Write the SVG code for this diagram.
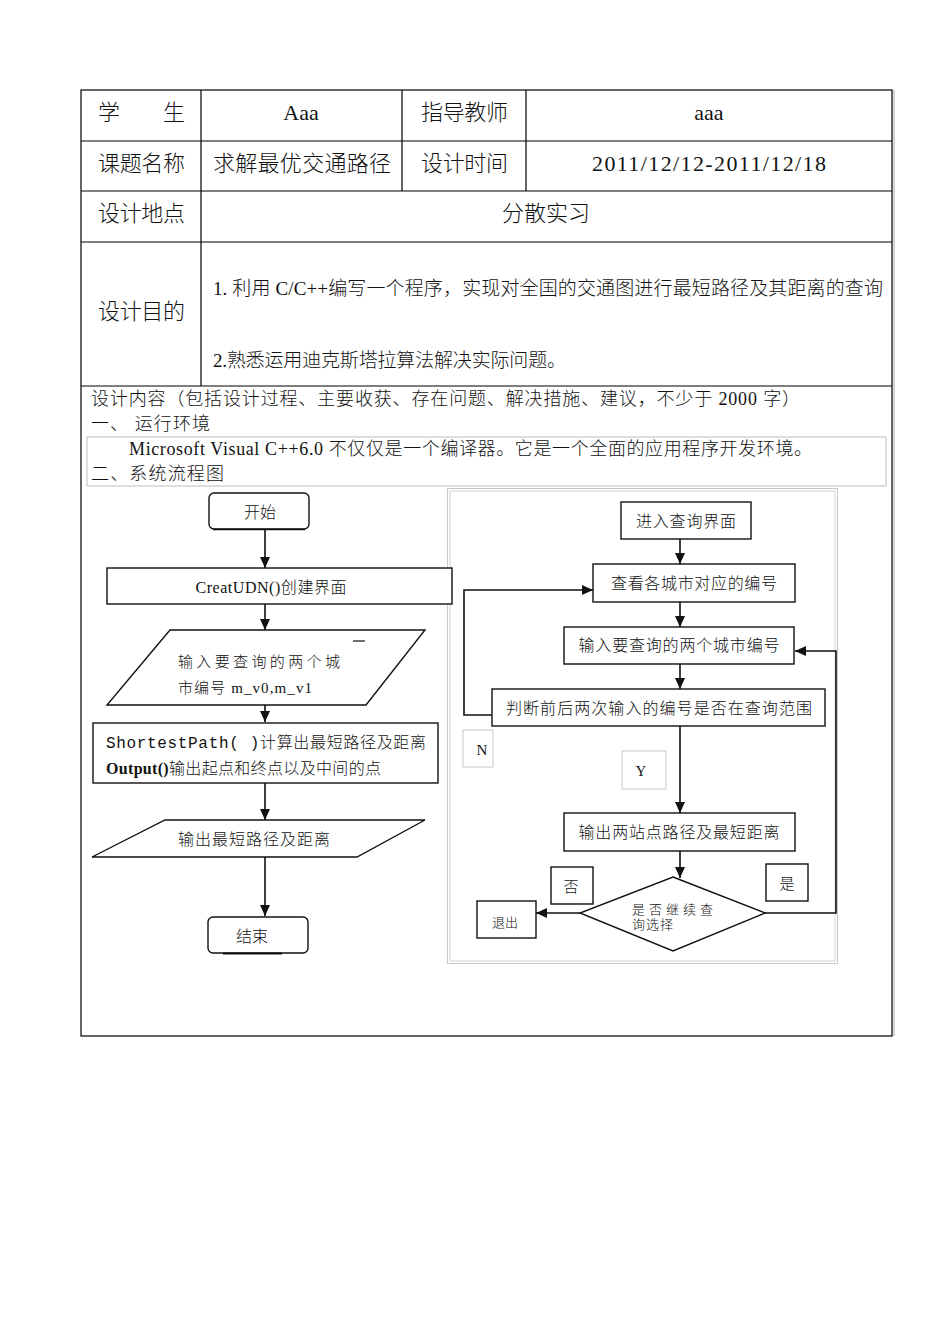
<svg xmlns="http://www.w3.org/2000/svg" width="950" height="1344" viewBox="0 0 950 1344">
<style>
text{font-family:"Liberation Serif","Noto Sans CJK SC",serif;fill:#111;font-weight:300}
.t22{font-size:22px}
.t19{font-size:19px}
.t18{font-size:18px}
.f16{font-size:16px}
.f15{font-size:15px}
.f13{font-size:13px}
.mid{text-anchor:middle}
.tb{fill:none;stroke:#000;stroke-width:1.2}
.bx{fill:#fff;stroke:#111;stroke-width:1.4}
.gb{fill:none;stroke:#bdbdbd;stroke-width:1}
.ln{fill:none;stroke:#111;stroke-width:1.6}
</style>
<defs>
<marker id="ah" markerUnits="userSpaceOnUse" markerWidth="12" markerHeight="12" refX="11" refY="6" orient="auto">
<path d="M0,1 L11,6 L0,11 Z" fill="#111"/>
</marker>
</defs>
<rect width="950" height="1344" fill="#fff"/>

<g id="table">
<rect x="81" y="90" width="811" height="946" class="tb"/>
<line x1="894" y1="90" x2="894" y2="1036" stroke="#aaa" stroke-width="1"/>
<line x1="81" y1="141" x2="892" y2="141" class="tb"/>
<line x1="81" y1="191" x2="892" y2="191" class="tb"/>
<line x1="81" y1="242" x2="892" y2="242" class="tb"/>
<line x1="81" y1="386" x2="892" y2="386" class="tb"/>
<line x1="201" y1="90" x2="201" y2="386" class="tb"/>
<line x1="402" y1="90" x2="402" y2="191" class="tb"/>
<line x1="526" y1="90" x2="526" y2="191" class="tb"/>
<text x="98" y="120" class="t22">学</text>
<text x="163" y="120" class="t22">生</text>
<text x="301" y="120" class="t22 mid">Aaa</text>
<text x="421" y="120" class="t22" textLength="87">指导教师</text>
<text x="709" y="120" class="t22 mid">aaa</text>
<text x="98" y="171" class="t22" textLength="87">课题名称</text>
<text x="213" y="171" class="t22" textLength="178">求解最优交通路径</text>
<text x="421" y="171" class="t22" textLength="87">设计时间</text>
<text x="592" y="171" class="t22" textLength="234">2011/12/12-2011/12/18</text>
<text x="98" y="221" class="t22" textLength="87">设计地点</text>
<text x="546" y="221" class="t22 mid">分散实习</text>
<text x="98" y="319" class="t22" textLength="87">设计目的</text>
<text x="213" y="295" class="t19" textLength="670">1. 利用 C/C++编写一个程序，实现对全国的交通图进行最短路径及其距离的查询</text>
<text x="213" y="367" class="t19" textLength="353">2.熟悉运用迪克斯塔拉算法解决实际问题。</text>
<text x="91" y="405" class="t18" textLength="709">设计内容（包括设计过程、主要收获、存在问题、解决措施、建议，不少于 2000 字）</text>
<text x="91" y="430" class="t18" textLength="119">一、 运行环境</text>
<rect x="87" y="437" width="799" height="49" class="gb"/>
<text x="129" y="455" class="t18" textLength="683">Microsoft Visual C++6.0 不仅仅是一个编译器。它是一个全面的应用程序开发环境。</text>
<text x="91" y="480" class="t18" textLength="133">二、系统流程图</text>
</g>

<g id="right-container">
<rect x="447.5" y="488.5" width="390" height="475" fill="none" stroke="#c8c8c8" stroke-width="1"/>
<rect x="450" y="491" width="385" height="470" fill="none" stroke="#d4d4d4" stroke-width="1"/>
</g>

<g id="connectors">
<line x1="265" y1="530" x2="265" y2="568" class="ln" marker-end="url(#ah)"/>
<line x1="265" y1="604" x2="265" y2="630" class="ln" marker-end="url(#ah)"/>
<line x1="265" y1="705" x2="265" y2="722" class="ln" marker-end="url(#ah)"/>
<line x1="265" y1="783" x2="265" y2="820" class="ln" marker-end="url(#ah)"/>
<line x1="265" y1="857" x2="265" y2="916" class="ln" marker-end="url(#ah)"/>
<line x1="680" y1="539" x2="680" y2="564" class="ln" marker-end="url(#ah)"/>
<line x1="680" y1="602" x2="680" y2="627" class="ln" marker-end="url(#ah)"/>
<line x1="680" y1="664" x2="680" y2="689" class="ln" marker-end="url(#ah)"/>
<line x1="680" y1="726" x2="680" y2="813" class="ln" marker-end="url(#ah)"/>
<line x1="680" y1="851" x2="680" y2="878" class="ln" marker-end="url(#ah)"/>
<polyline points="492,715 464,715 464,590 593,590" class="ln" marker-end="url(#ah)"/>
<polyline points="765,913 836,913 836,651 795,651" class="ln" marker-end="url(#ah)"/>
<line x1="580" y1="913" x2="536" y2="913" class="ln" marker-end="url(#ah)"/>
</g>

<g id="n-start">
<rect x="209" y="493" width="100" height="36" rx="5" class="bx"/>
<line x1="213" y1="529.5" x2="305" y2="529.5" stroke="#111" stroke-width="1.5"/>
<text x="260" y="518" class="f16 mid">开始</text>
</g>
<g id="n-creat">
<rect x="107" y="568" width="345" height="36" class="bx"/>
<text x="271" y="593" class="f16 mid" textLength="151">CreatUDN()创建界面</text>
</g>
<g id="n-input">
<polygon points="170,630 425,630 366,705 107,705" class="bx"/>
<line x1="165" y1="640" x2="352" y2="640" stroke="#fff" stroke-width="1"/>
<line x1="353" y1="641" x2="365" y2="641" stroke="#111" stroke-width="1.2"/>
<text x="178" y="667" class="f15" textLength="162">输入要查询的两个城</text>
<text x="178" y="693" class="f15" textLength="134">市编号 m_v0,m_v1</text>
</g>
<g id="n-shortest">
<rect x="93" y="723" width="345" height="60" class="bx"/>
<text x="106" y="748" class="f16" textLength="320"><tspan font-family="Liberation Mono, monospace">ShortestPath( )</tspan>计算出最短路径及距离</text>
<text x="106" y="774" class="f16" textLength="275"><tspan font-weight="bold">Output()</tspan>输出起点和终点以及中间的点</text>
</g>
<g id="n-output">
<polygon points="165,820 425,820 357,857 92,857" class="bx"/>
<text x="178" y="845" class="f16" textLength="152">输出最短路径及距离</text>
</g>
<g id="n-end">
<rect x="208" y="917" width="100" height="36" rx="5" class="bx"/>
<line x1="223" y1="953.5" x2="282" y2="953.5" stroke="#111" stroke-width="2"/>
<text x="252" y="942" class="f16 mid">结束</text>
</g>

<g id="r-enter">
<rect x="621" y="502" width="130" height="37" class="bx"/>
<text x="686" y="527" class="f16 mid" textLength="100">进入查询界面</text>
</g>
<g id="r-view">
<rect x="593" y="564" width="202" height="38" class="bx"/>
<text x="694" y="589" class="f16 mid" textLength="166">查看各城市对应的编号</text>
</g>
<g id="r-input">
<rect x="564" y="627" width="230" height="37" class="bx"/>
<text x="679" y="651" class="f16 mid" textLength="201">输入要查询的两个城市编号</text>
</g>
<g id="r-judge">
<rect x="492" y="689" width="333" height="37" class="bx"/>
<text x="659" y="714" class="f16 mid" textLength="306">判断前后两次输入的编号是否在查询范围</text>
</g>
<g id="r-n">
<rect x="463" y="730" width="30" height="37" fill="#fff" stroke="#c8c8c8" stroke-width="1"/>
<text x="482" y="755" class="f15 mid">N</text>
</g>
<g id="r-y">
<rect x="622" y="751" width="44" height="38" fill="#fff" stroke="#c8c8c8" stroke-width="1"/>
<text x="641" y="776" class="f15 mid">Y</text>
</g>
<g id="r-output">
<rect x="564" y="813" width="231" height="38" class="bx"/>
<text x="679" y="838" class="f16 mid" textLength="201">输出两站点路径及最短距离</text>
</g>
<g id="r-decide">
<polygon points="673,877 765,913 673,951 580,913" class="bx"/>
<text x="632" y="914" class="f13" textLength="81">是否继续查</text>
<text x="632" y="929" class="f13" textLength="41">询选择</text>
</g>
<g id="r-no">
<rect x="551" y="867" width="42" height="37" class="bx" stroke-width="1.2"/>
<text x="571" y="892" class="f15 mid">否</text>
</g>
<g id="r-yes">
<rect x="766" y="864" width="42" height="37" class="bx" stroke-width="1.2"/>
<text x="787" y="889" class="f15 mid">是</text>
</g>
<g id="r-exit">
<rect x="477" y="901" width="59" height="37" class="bx"/>
<text x="505" y="927" class="f13 mid">退出</text>
</g>
</svg>
